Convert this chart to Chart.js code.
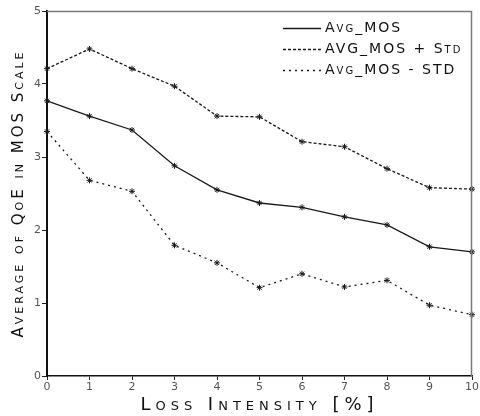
<!DOCTYPE html>
<html>
<head>
<meta charset="utf-8">
<script src="https://cdn.jsdelivr.net/npm/chart.js@4.4.1/dist/chart.umd.min.js"></script>
<style>
  html, body { margin: 0; padding: 0; background: #fff; }
  #wrap { width: 480px; height: 416px; position: relative; }
</style>
</head>
<body>
<div id="wrap"><canvas id="mosChart"></canvas></div>
<script>
// loss intensity in %
const lossLevels = ['0', '1', '2', '3', '4', '5', '6', '7', '8', '9', '10'];

// values
const avgMos      = [3.77, 3.56, 3.37, 2.88, 2.55, 2.37, 2.31, 2.18, 2.07, 1.77, 1.70];
const avgPlusStd  = [4.21, 4.48, 4.21, 3.97, 3.56, 3.55, 3.21, 3.14, 2.84, 2.58, 2.56];
const avgMinusStd = [3.35, 2.68, 2.53, 1.79, 1.55, 1.21, 1.40, 1.22, 1.31, 0.97, 0.84];

const seriesLabels = ['Avg_MOS', 'AVG_MOS + Std', 'Avg_MOS - STD'];
const yTicks = [0, 1, 2, 3, 4, 5];

const FONT = 'DejaVu Sans, Liberation Sans, sans-serif';
const titleSpacing = { x: '5px', y: '3px' };

// spaced-out small caps for the axis titles
const spacedTitles = {
  id: 'spacedTitles',
  beforeDraw(chart) {
    Object.values(chart.scales).forEach(scale => {
      if (scale._spaced) return;
      const orig = scale.drawTitle;
      scale.drawTitle = function () {
        const ctx = this.ctx;
        ctx.save();
        ctx.letterSpacing = titleSpacing[this.id] || '0px';
        orig.apply(this, arguments);
        ctx.restore();
      };
      scale._spaced = true;
    });
  }
};

// top/right frame + legend inside the plot
const frameAndLegend = {
  id: 'frameAndLegend',
  afterDraw(chart) {
    const { ctx, chartArea: a } = chart;
    ctx.save();
    ctx.strokeStyle = '#7a7a7a';
    ctx.lineWidth = 1.5;
    ctx.beginPath();
    ctx.moveTo(a.left, a.top + 0.5);
    ctx.lineTo(a.right - 0.5, a.top + 0.5);
    ctx.lineTo(a.right - 0.5, a.bottom);
    ctx.stroke();

    const rows = [28, 49, 70];
    chart.data.datasets.forEach((ds, i) => {
      const y = rows[i];
      ctx.strokeStyle = ds.borderColor;
      ctx.lineWidth = ds.borderWidth;
      ctx.setLineDash(ds.borderDash || []);
      ctx.beginPath();
      ctx.moveTo(283, y + 0.5);
      ctx.lineTo(321, y + 0.5);
      ctx.stroke();
      ctx.setLineDash([]);
      ctx.fillStyle = '#111';
      ctx.font = 'small-caps 14px ' + FONT;
      ctx.letterSpacing = '2px';
      ctx.textAlign = 'left';
      ctx.textBaseline = 'middle';
      ctx.fillText(ds.label, 325, y);
    });
    ctx.restore();
  }
};

const lineStyle = (label, data, dash) => ({
  label: label,
  data: data,
  borderColor: '#1a1a1a',
  borderWidth: 1.3,
  borderDash: dash,
  pointStyle: 'star',
  pointRadius: 3,
  pointBorderColor: '#1a1a1a',
  pointBorderWidth: 1,
  pointBackgroundColor: '#1a1a1a',
  tension: 0,
  fill: false
});

new Chart(document.getElementById('mosChart'), {
  type: 'line',
  data: {
    labels: lossLevels,
    datasets: [
      lineStyle(seriesLabels[0], avgMos, []),
      lineStyle(seriesLabels[1], avgPlusStd, [3, 2]),
      lineStyle(seriesLabels[2], avgMinusStd, [2, 4])
    ]
  },
  options: {
    responsive: true,
    maintainAspectRatio: false,
    animation: false,
    layout: { padding: { top: 11, right: 4, left: 0, bottom: 0 } },
    plugins: {
      legend: { display: false },
      tooltip: { enabled: false }
    },
    scales: {
      x: {
        offset: false,
        grid: { drawOnChartArea: false, drawTicks: true, tickLength: 4, color: '#222' },
        border: { color: '#111', width: 1.5 },
        ticks: { color: '#555', font: { family: FONT, size: 11 }, padding: 1, maxRotation: 0, autoSkip: false },
        title: {
          display: true,
          text: 'Loss Intensity [%]',
          color: '#111',
          font: { family: FONT, size: 18, weight: 'small-caps' },
          padding: { top: 2, bottom: 0 }
        },
        afterFit: s => { s.height = 40; }
      },
      y: {
        min: 0,
        max: 5,
        grid: { drawOnChartArea: false, drawTicks: true, tickLength: 5, color: '#222' },
        border: { color: '#111', width: 2 },
        afterBuildTicks: s => { s.ticks = yTicks.map(v => ({ value: v })); },
        ticks: { color: '#555', font: { family: FONT, size: 11 }, padding: 1 },
        title: {
          display: true,
          text: 'Average of QoE in MOS Scale',
          color: '#111',
          font: { family: FONT, size: 15, weight: 'small-caps' },
          padding: { top: 10, bottom: 0 }
        },
        afterFit: s => { s.width = 47; }
      }
    }
  },
  plugins: [spacedTitles, frameAndLegend]
});
</script>
</body>
</html>
